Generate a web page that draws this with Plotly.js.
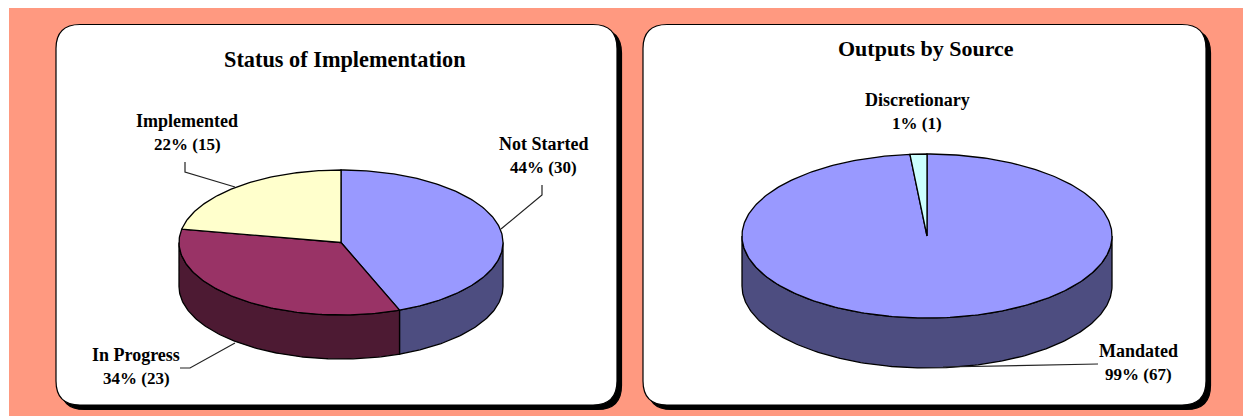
<!DOCTYPE html>
<html><head><meta charset="utf-8">
<script src="https://cdn.plot.ly/plotly-3.0.1.min.js"></script>
<style>html,body{margin:0;padding:0;background:#fff;overflow:hidden}#c{width:1243px;height:416px}</style>
</head><body><div id="c"></div>
<script>
// ---- data ----
var statusTitle = "Status of Implementation";
var statusCategories = ["Not Started", "In Progress", "Implemented"];
var statusValues = [30, 23, 15];
var statusTops = ["#9999FF", "#993366", "#FFFFCC"];
var statusWalls = ["#4D4D80", "#4D1A33", "#808066"];

var sourceTitle = "Outputs by Source";
var sourceCategories = ["Mandated", "Discretionary"];
var sourceValues = [67, 1];
var sourceTops = ["#9999FF", "#CCFFFF"];
var sourceWalls = ["#4D4D80", "#668080"];

// ---- geometry of the two tilted discs (pixels on the page-sized axes) ----
var statusDisc = {cx: 341, cy: 242.5, rx: 162, ry: 72.5, depth: 44};
var sourceDisc = {cx: 927, cy: 236, rx: 185, ry: 82, depth: 50};

var ink = "#000000", lineW = 1.3;

function pt(d, deg, drop) {
  var a = deg * Math.PI / 180;
  return [d.cx + d.rx * Math.sin(a), d.cy - d.ry * Math.cos(a) + (drop || 0)];
}
function arc(d, from, to, drop) {
  var out = [], n = Math.max(2, Math.ceil(Math.abs(to - from)));
  for (var i = 0; i <= n; i++) out.push(pt(d, from + (to - from) * i / n, drop));
  return out;
}
function poly(points, fill, name) {
  var c = points.concat([points[0]]);
  return {type: "scatter", mode: "lines", name: name,
    x: c.map(function (p) { return p[0]; }), y: c.map(function (p) { return p[1]; }),
    fill: "toself", fillcolor: fill, line: {color: ink, width: lineW, shape: "linear"},
    hoverinfo: "name", showlegend: false};
}
function disc(d, names, values, tops, walls) {
  var total = values.reduce(function (a, b) { return a + b; }, 0);
  var walled = [], faces = [], start = 0;
  values.forEach(function (v, i) {
    var end = start + v / total * 360;
    var lo = Math.max(start, 90), hi = Math.min(end, 270);
    if (hi > lo) {
      walled.push(poly(arc(d, lo, hi, 0).concat(arc(d, hi, lo, d.depth)), walls[i], names[i] + " side"));
    }
    faces.push(poly([[d.cx, d.cy]].concat(arc(d, start, end, 0)), tops[i], names[i]));
    start = end;
  });
  return walled.concat(faces);
}
var traces = disc(statusDisc, statusCategories, statusValues, statusTops, statusWalls)
  .concat(disc(sourceDisc, sourceCategories, sourceValues, sourceTops, sourceWalls));

// ---- panels ----
function rounded(x0, y0, x1, y1, r) {
  return "M" + (x0 + r) + "," + y0 + " L" + (x1 - r) + "," + y0 + " Q" + x1 + "," + y0 + " " + x1 + "," + (y0 + r) +
    " L" + x1 + "," + (y1 - r) + " Q" + x1 + "," + y1 + " " + (x1 - r) + "," + y1 +
    " L" + (x0 + r) + "," + y1 + " Q" + x0 + "," + y1 + " " + x0 + "," + (y1 - r) +
    " L" + x0 + "," + (y0 + r) + " Q" + x0 + "," + y0 + " " + (x0 + r) + "," + y0 + " Z";
}
function pathShape(path, fill, line, layer) {
  return {type: "path", xref: "x", yref: "y", path: path, fillcolor: fill,
    line: {color: line, width: 1.2}, layer: layer || "below"};
}
var shapes = [
  {type: "rect", xref: "x", yref: "y", x0: 9, x1: 1243, y0: 8, y1: 416, fillcolor: "#FF9980", line: {width: 0}, layer: "below"},
  pathShape(rounded(60.5, 29, 621.5, 409.5, 24), ink, ink),
  pathShape(rounded(56, 24.5, 617, 405, 24), "#FFFFFF", ink),
  pathShape(rounded(647.5, 29, 1210.5, 409.5, 24), ink, ink),
  pathShape(rounded(643, 24.5, 1206, 405, 24), "#FFFFFF", ink),
  // leader lines
  pathShape("M185,162 L185,172 L235,187", "rgba(0,0,0,0)", "#222222", "above"),
  pathShape("M542,185 L542,195 L501,229", "rgba(0,0,0,0)", "#222222", "above"),
  pathShape("M180,368 L190,368 L235,343", "rgba(0,0,0,0)", "#222222", "above"),
  pathShape("M1098,364 L943,367", "rgba(0,0,0,0)", "#222222", "above")
];

// ---- text ----
function share(values, i) {
  var t = values.reduce(function (a, b) { return a + b; }, 0);
  return Math.round(values[i] / t * 100) + "% (" + values[i] + ")";
}
function txt(s, x, y, size) {
  return {text: "<b>" + s + "</b>", x: x, y: y, xref: "x", yref: "y", showarrow: false,
    xanchor: "center", yanchor: "middle",
    font: {family: "Liberation Serif, Times New Roman, serif", size: size, color: "#000000"}};
}
var labelSpots = [
  [statusCategories[0], share(statusValues, 0), 543, 144],
  [statusCategories[1], share(statusValues, 1), 136, 355],
  [statusCategories[2], share(statusValues, 2), 187, 121],
  [sourceCategories[0], share(sourceValues, 0), 1138, 351],
  [sourceCategories[1], share(sourceValues, 1), 917, 100]
];
var annotations = [txt(statusTitle, 345, 59, 22.3), txt(sourceTitle, 925.5, 48, 22)];
labelSpots.forEach(function (l) {
  annotations.push(txt(l[0], l[2], l[3], 18));
  annotations.push(txt(l[1], l[2], l[3] + 23.5, 17));
});

var layout = {
  width: 1243, height: 416, margin: {l: 0, r: 0, t: 0, b: 0},
  paper_bgcolor: "#FFFFFF", plot_bgcolor: "rgba(0,0,0,0)",
  xaxis: {range: [0, 1243], visible: false, fixedrange: true},
  yaxis: {range: [416, 0], visible: false, fixedrange: true},
  shapes: shapes, annotations: annotations, showlegend: false
};
Plotly.newPlot("c", traces, layout, {displayModeBar: false, staticPlot: true});
</script></body></html>
